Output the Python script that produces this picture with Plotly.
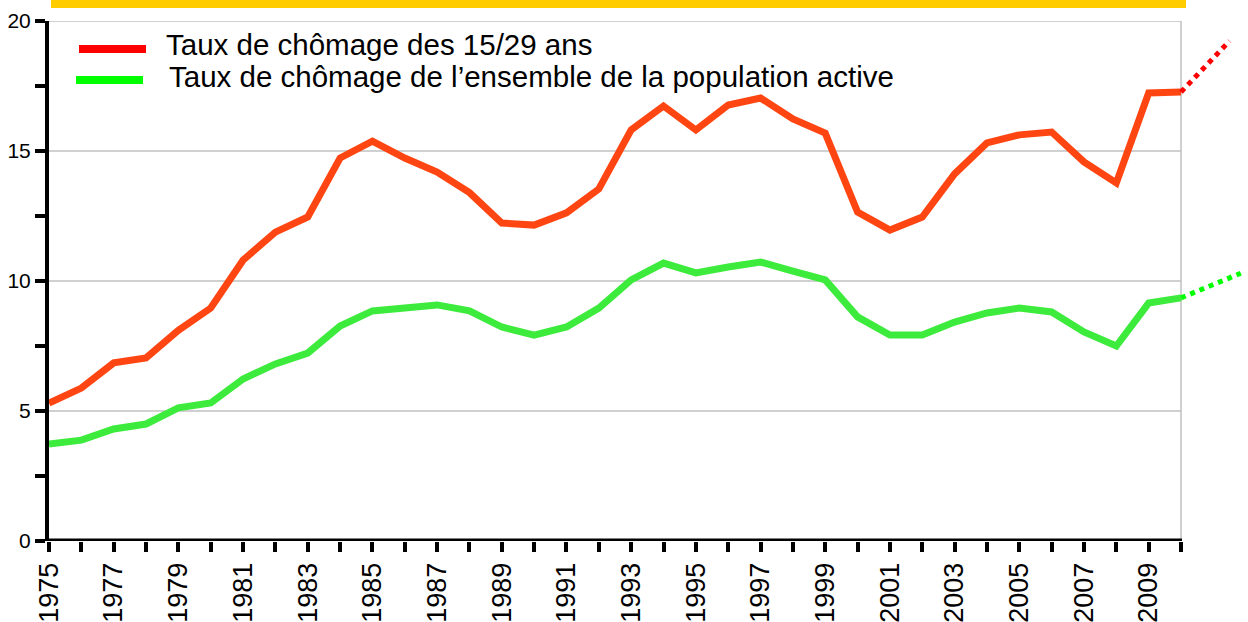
import plotly.graph_objects as go

years = list(range(1975, 2011))
jeunes = [5.3, 5.88, 6.85, 7.04, 8.1, 8.96, 10.8, 11.88, 12.46, 14.73,
          15.38, 14.73, 14.19, 13.4, 12.23, 12.15, 12.62, 13.54, 15.81, 16.73,
          15.81, 16.77, 17.04, 16.23, 15.69, 12.65, 11.96, 12.46, 14.12, 15.31,
          15.62, 15.73, 14.58, 13.77, 17.23, 17.27]
ensemble = [3.73, 3.88, 4.31, 4.5, 5.12, 5.31, 6.23, 6.81, 7.23, 8.27,
            8.85, 8.96, 9.08, 8.85, 8.23, 7.92, 8.23, 8.96, 10.04, 10.69,
            10.31, 10.54, 10.73, 10.38, 10.04, 8.62, 7.92, 7.92, 8.42, 8.77,
            8.96, 8.81, 8.04, 7.5, 9.15, 9.35]
ext_years_j = [2010, 2011.5]
ext_vals_j = [17.27, 19.23]
ext_years_e = [2010, 2011.85]
ext_vals_e = [9.35, 10.3]
grid_vals = [5, 10, 15, 20]
tick_labels = [str(y) if y % 2 == 1 else "" for y in years]
legend_labels = ["Taux de chômage des 15/29 ans",
                 "Taux de chômage de l’ensemble de la population active"]

W, H = 1248, 622
L = 49
T = 21
B = H - 541
R = 0
px_per_year = (1181 - 49) / 35.0
x_end = 1975 + (W - L) / px_per_year

FONT = "Liberation Sans, Arial, sans-serif"


def px_x(p):
    return (p - L) / (W - L - R)


def px_y(p):
    return (H - B - p) / (H - T - B)


fig = go.Figure()
fig.add_trace(go.Scatter(x=years, y=jeunes, mode="lines",
                         line=dict(color="#FF4612", width=7), showlegend=False))
fig.add_trace(go.Scatter(x=years, y=ensemble, mode="lines",
                         line=dict(color="#3CEB3C", width=7), showlegend=False))
fig.add_trace(go.Scatter(x=ext_years_j, y=ext_vals_j, mode="lines",
                         line=dict(color="#FF0000", width=5, dash="dot"), showlegend=False))
fig.add_trace(go.Scatter(x=ext_years_e, y=ext_vals_e, mode="lines",
                         line=dict(color="#00FF00", width=5, dash="dot"), showlegend=False))

shapes = []
for g in grid_vals:
    shapes.append(dict(type="line", xref="x", yref="y", x0=1975, x1=2010, y0=g, y1=g,
                       line=dict(color="#C0C0C0", width=1.5), layer="below"))
shapes.append(dict(type="line", xref="x", yref="y", x0=2010, x1=2010, y0=0, y1=20,
                   line=dict(color="#C0C0C0", width=1.5), layer="below"))
shapes.append(dict(type="line", xref="x", yref="y", x0=1975 - 0.05, x1=2010 + 0.03, y0=0, y1=0,
                   line=dict(color="black", width=5), layer="above"))
shapes.append(dict(type="rect", xref="paper", yref="paper",
                   x0=px_x(51), x1=px_x(1186), y0=px_y(8), y1=px_y(0),
                   fillcolor="#FFCC00", line=dict(width=0)))
shapes.append(dict(type="line", xref="paper", yref="paper",
                   x0=px_x(79), x1=px_x(146), y0=px_y(49), y1=px_y(49),
                   line=dict(color="#FF0000", width=8)))
shapes.append(dict(type="line", xref="paper", yref="paper",
                   x0=px_x(76), x1=px_x(143), y0=px_y(80), y1=px_y(80),
                   line=dict(color="#00FF00", width=8)))

annotations = [
    dict(xref="paper", yref="paper", x=px_x(164), y=px_y(45), text=legend_labels[0],
         showarrow=False, xanchor="left", yanchor="middle",
         font=dict(family=FONT, size=29.5, color="black")),
    dict(xref="paper", yref="paper", x=px_x(167), y=px_y(77), text=legend_labels[1],
         showarrow=False, xanchor="left", yanchor="middle",
         font=dict(family=FONT, size=29.5, color="black")),
]

fig.update_layout(
    width=W, height=H,
    margin=dict(l=L, r=R, t=T, b=B, pad=0),
    paper_bgcolor="white", plot_bgcolor="white",
    shapes=shapes, annotations=annotations,
    showlegend=False,
)
fig.update_xaxes(range=[1975, x_end], showgrid=False, zeroline=False, showline=False,
                 tickmode="array", tickvals=years, ticktext=tick_labels,
                 ticks="outside", ticklen=10, tickwidth=4, tickcolor="black",
                 tickangle=-90, tickfont=dict(family=FONT, size=27, color="black"))
fig.update_yaxes(range=[0, 20], showgrid=False, zeroline=False, showline=True,
                 linecolor="black", linewidth=4,
                 tickmode="array", tickvals=[0, 5, 10, 15, 20],
                 ticks="outside", ticklen=10, tickwidth=4, tickcolor="black",
                 tickfont=dict(family=FONT, size=21, color="black"),
                 minor=dict(tickmode="array", tickvals=[2.5, 7.5, 12.5, 17.5],
                            ticks="outside", ticklen=10, tickwidth=4, tickcolor="black",
                            showgrid=False))

fig.write_html(
    "out.html",
    config={"displayModeBar": False},
    post_script="document.body.style.margin='0';document.body.style.overflow='hidden';",
)
